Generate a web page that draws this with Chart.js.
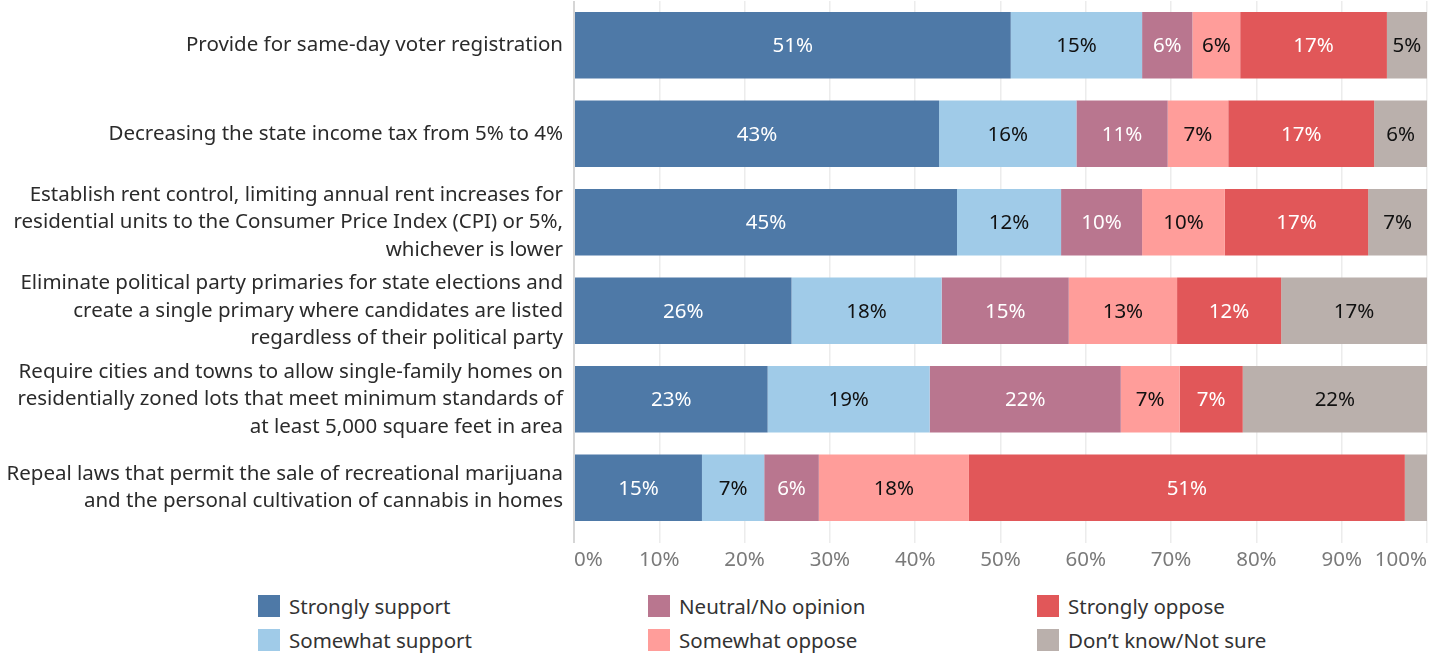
<!DOCTYPE html>
<html>
<head>
<meta charset="utf-8">
<script src="https://cdn.jsdelivr.net/npm/chart.js@4"></script>
<style>
  body { margin: 0; background: #fff; font-family: "Noto Sans", sans-serif; }
  #wrap { position: relative; width: 1440px; height: 654px; }
  #chartBox { position: absolute; left: 0; top: 0; width: 1440px; height: 580px; }
  .leg { position: absolute; font-size: 20.5px; color: #333; display: flex; align-items: center; }
  .leg span.box { width: 22px; height: 22px; margin-right: 9px; display: inline-block; }
</style>
</head>
<body>
<div id="wrap">
  <div id="chartBox"><canvas id="barChart"></canvas></div>
  <div id="legend"></div>
</div>
<script>
let questions = [
    ['Provide for same-day voter registration'],
    ['Decreasing the state income tax from 5% to 4%'],
    ['Establish rent control, limiting annual rent increases for', 'residential units to the Consumer Price Index (CPI) or 5%,', 'whichever is lower'],
    ['Eliminate political party primaries for state elections and', 'create a single primary where candidates are listed', 'regardless of their political party'],
    ['Require cities and towns to allow single-family homes on', 'residentially zoned lots that meet minimum standards of', 'at least 5,000 square feet in area'],
    ['Repeal laws that permit the sale of recreational marijuana', 'and the personal cultivation of cannabis in homes']
];

let answers = ['Strongly support', 'Somewhat support', 'Neutral/No opinion', 'Somewhat oppose', 'Strongly oppose', 'Don\u2019t know/Not sure'];
let colors = ['#4e79a7', '#a0cbe8', '#b9768f', '#ff9d9a', '#e15759', '#bab0ac'];
let textColors = ['#fff', '#111', '#fff', '#111', '#fff', '#111'];

// percent per answer, one value per question (top to bottom)
let stronglySupport = [51.2, 42.8, 44.9, 25.5, 22.7, 15.0];
let somewhatSupport = [15.4, 16.1, 12.2, 17.6, 19.0, 7.3];
let neutral         = [5.9, 10.7, 9.5, 14.9, 22.4, 6.4];
let somewhatOppose  = [5.6, 7.1, 9.7, 12.7, 6.9, 17.6];
let stronglyOppose  = [17.2, 17.1, 16.8, 12.2, 7.4, 51.1];
let dontKnow        = [4.7, 6.2, 6.9, 17.1, 21.6, 2.6];

let xTicks = [0, 10, 20, 30, 40, 50, 60, 70, 80, 90, 100];

let series = [stronglySupport, somewhatSupport, neutral, somewhatOppose, stronglyOppose, dontKnow];

let segLabels = {
    id: 'segLabels',
    afterDatasetsDraw(chart){
        let ctx = chart.ctx;
        ctx.save();
        ctx.font = '20.5px "Noto Sans"';
        ctx.textAlign = 'center';
        ctx.textBaseline = 'middle';
        chart.data.datasets.forEach(function(ds, i){
            let meta = chart.getDatasetMeta(i);
            meta.data.forEach(function(bar, j){
                let v = ds.data[j];
                if (v < 3) return;
                ctx.fillStyle = textColors[i];
                let cx = (bar.x + bar.base) / 2;
                ctx.fillText(Math.round(v) + '%', cx, bar.y + 1);
            });
        });
        ctx.restore();
    }
};

let ctx = document.getElementById('barChart').getContext('2d');
let barChart = new Chart(ctx, {
    type: 'bar',
    data: {
        labels: questions,
        datasets: series.map(function(d, i){
            return {
                label: answers[i],
                data: d,
                backgroundColor: colors[i],
                borderWidth: 0,
                categoryPercentage: 0.75,
                barPercentage: 1
            };
        })
    },
    options: {
        indexAxis: 'y',
        responsive: true,
        maintainAspectRatio: false,
        animation: false,
        layout: { padding: { top: 1, right: 13, left: 0, bottom: 0 } },
        scales: {
            x: {
                stacked: true,
                min: 0,
                max: 100,
                afterBuildTicks: function(scale){
                    scale.ticks = xTicks.map(function(v){ return {value: v}; });
                },
                afterFit: function(scale){
                    scale.height = 48;
                    scale.paddingLeft = 0;
                    scale.paddingRight = 0;
                },
                border: { display: false },
                grid: {
                    color: function(c){ return c.index === 0 ? '#d6d6d6' : '#ececec'; },
                    lineWidth: function(c){ return c.index === 0 ? 2 : 1.5; },
                    tickLength: 11
                },
                ticks: {
                    align: 'inner',
                    padding: 5,
                    color: '#7a7a7a',
                    font: { family: 'Noto Sans', size: 20.5 },
                    callback: function(v){ return v + '%'; }
                }
            },
            y: {
                stacked: true,
                afterFit: function(scale){
                    scale.width = 574;
                    scale.paddingTop = 0;
                    scale.paddingBottom = 0;
                },
                border: { display: false },
                grid: { display: false, drawTicks: false },
                ticks: {
                    autoSkip: false,
                    padding: 11,
                    color: '#2b2b2b',
                    font: { family: 'Noto Sans', size: 20.5, lineHeight: 1.34 }
                }
            }
        },
        plugins: {
            legend: { display: false },
            tooltip: { enabled: false }
        }
    },
    plugins: [segLabels]
});

// legend laid out in columns like the original
let legend = document.getElementById('legend');
let legX = [258, 648, 1037];
let legY = [594, 628];
answers.forEach(function(a, i){
    let el = document.createElement('div');
    el.className = 'leg';
    el.style.left = legX[Math.floor(i / 2)] + 'px';
    el.style.top = legY[i % 2] + 'px';
    el.style.height = '23px';
    el.innerHTML = '<span class="box" style="background:' + colors[i] + '"></span>' + a;
    legend.appendChild(el);
});
</script>
</body>
</html>
